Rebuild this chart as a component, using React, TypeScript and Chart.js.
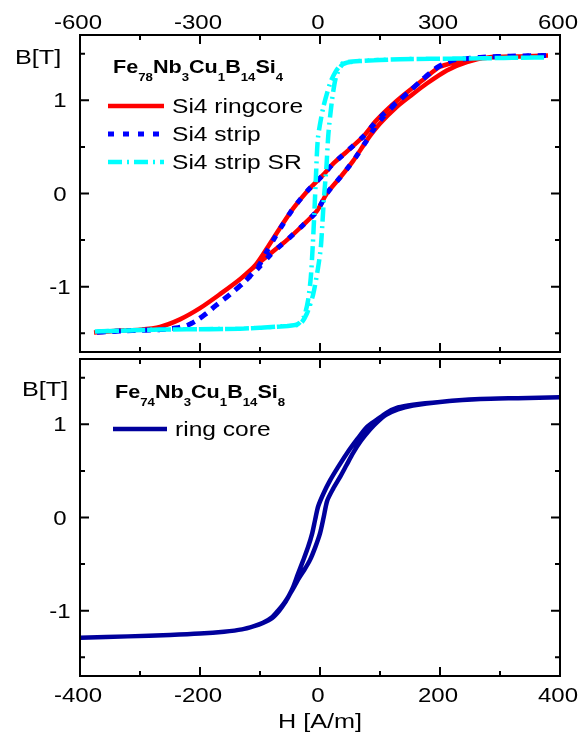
import React, { useEffect, useRef } from "react";
import { Chart, registerables } from "chart.js";
Chart.register(...registerables);

const FONT = '"Liberation Sans", Arial, Helvetica, sans-serif';

// ---- axes ----
const topXTicks = [-600, -300, 0, 300, 600];
const topXMinor = [-450, -150, 150, 450];
const bottomXTicks = [-400, -200, 0, 200, 400];
const bottomXMinor = [-300, -100, 100, 300];
const yTicks = [-1, 0, 1];
const yMinor = [-1.5, -0.5, 0.5, 1.5];

// ---- top panel: Fe78Nb3Cu1B14Si4 ----
const ringDescH = [570, 500, 433, 367, 300, 258, 210, 175, 140, 110, 67, 33, 8, -33, -67, -100, -130, -160, -200, -250, -300, -350, -400, -450, -500, -565];
const ringDescB = [1.48, 1.47, 1.46, 1.43, 1.36, 1.22, 1.06, 0.93, 0.78, 0.62, 0.45, 0.32, 0.2, 0.02, -0.16, -0.37, -0.57, -0.76, -0.92, -1.08, -1.23, -1.35, -1.43, -1.46, -1.47, -1.49];
const ringAscH = [-565, -500, -450, -400, -350, -300, -250, -200, -160, -120, -83, -50, -8, 17, 50, 83, 117, 150, 192, 230, 267, 317, 367, 420, 500, 570];
const ringAscB = [-1.49, -1.47, -1.46, -1.43, -1.35, -1.23, -1.08, -0.92, -0.77, -0.63, -0.5, -0.37, -0.19, 0.0, 0.17, 0.35, 0.57, 0.75, 0.93, 1.06, 1.18, 1.32, 1.41, 1.46, 1.47, 1.48];

const stripDescH = [565, 450, 400, 375, 333, 296, 258, 217, 179, 142, 110, 67, 33, 8, -33, -67, -100, -129, -154, -192, -233, -260, -285, -308, -330, -355, -400, -470, -565];
const stripDescB = [1.48, 1.47, 1.46, 1.45, 1.43, 1.36, 1.23, 1.07, 0.93, 0.78, 0.62, 0.45, 0.32, 0.2, 0.02, -0.16, -0.38, -0.59, -0.78, -0.96, -1.11, -1.2, -1.29, -1.36, -1.41, -1.44, -1.46, -1.47, -1.49];
const stripAscH = [-565, -470, -400, -355, -330, -308, -285, -260, -233, -192, -154, -120, -83, -50, -8, 17, 50, 83, 117, 142, 179, 217, 258, 296, 333, 375, 400, 450, 565];
const stripAscB = [-1.49, -1.47, -1.46, -1.44, -1.41, -1.36, -1.29, -1.2, -1.11, -0.96, -0.8, -0.64, -0.5, -0.37, -0.19, 0.0, 0.17, 0.35, 0.57, 0.74, 0.92, 1.07, 1.23, 1.36, 1.43, 1.45, 1.46, 1.47, 1.48];

const srDescH = [560, 400, 200, 100, 70, 54, 38, 25, 8, -5, -10, -14, -18, -23, -30, -40, -55, -80, -200, -400, -565];
const srDescB = [1.46, 1.45, 1.44, 1.42, 1.41, 1.39, 1.3, 1.18, 0.92, 0.6, 0.2, -0.2, -0.55, -0.9, -1.15, -1.32, -1.4, -1.42, -1.45, -1.46, -1.48];
const srAscH = [-565, -400, -200, -80, -50, -33, -17, -5, 2, 6, 10, 16, 21, 30, 40, 55, 75, 100, 200, 400, 560];
const srAscB = [-1.48, -1.46, -1.45, -1.42, -1.4, -1.29, -1.08, -0.8, -0.58, -0.32, -0.04, 0.28, 0.64, 1.0, 1.25, 1.38, 1.41, 1.42, 1.44, 1.45, 1.46];

// ---- bottom panel: Fe74Nb3Cu1B14Si8 ----
const coreDescH = [400, 330, 267, 200, 155, 130, 110, 95, 78, 62, 45, 30, 17, 6, -3, -8, -13, -20, -28, -37, -45, -52, -60, -70, -80, -95, -110, -130, -160, -200, -250, -320, -400];
const coreDescB = [1.29, 1.28, 1.27, 1.24, 1.21, 1.18, 1.12, 1.05, 0.97, 0.84, 0.69, 0.54, 0.4, 0.26, 0.12, -0.02, -0.17, -0.32, -0.46, -0.61, -0.75, -0.84, -0.92, -1.0, -1.07, -1.13, -1.165, -1.2, -1.225, -1.245, -1.26, -1.275, -1.29];
const coreAscH = [-400, -320, -250, -200, -160, -130, -110, -95, -80, -68, -58, -50, -42, -35, -26, -17, -8, 0, 6, 12, 22, 33, 44, 55, 68, 83, 95, 110, 130, 155, 200, 267, 330, 400];
const coreAscB = [-1.29, -1.275, -1.26, -1.245, -1.225, -1.2, -1.165, -1.13, -1.08, -1.0, -0.91, -0.82, -0.73, -0.65, -0.56, -0.46, -0.32, -0.17, 0.0, 0.18, 0.31, 0.43, 0.56, 0.69, 0.82, 0.94, 1.02, 1.1, 1.16, 1.2, 1.24, 1.27, 1.28, 1.29];

const topNames = ["Si4 ringcore", "Si4 strip", "Si4 strip SR"];
const bottomNames = ["ring core"];
const topFormula = [["Fe", 0], ["78", 1], ["Nb", 0], ["3", 1], ["Cu", 0], ["1", 1], ["B", 0], ["14", 1], ["Si", 0], ["4", 1]];
const bottomFormula = [["Fe", 0], ["74", 1], ["Nb", 0], ["3", 1], ["Cu", 0], ["1", 1], ["B", 0], ["14", 1], ["Si", 0], ["8", 1]];

function loop(dh: number[], db: number[], ah: number[], ab: number[]) {
  const h = dh.concat(ah.slice(1));
  const b = db.concat(ab.slice(1));
  return h.map((x, i) => ({ x, y: b[i] }));
}

function drawText(ctx: CanvasRenderingContext2D, s: string, x: number, y: number, size: number, opts: { bold?: boolean; align?: string; sx?: number } = {}) {
  const sx = opts.sx ?? 1.2;
  ctx.save();
  ctx.font = `${opts.bold ? "bold " : ""}${size}px ${FONT}`;
  ctx.textBaseline = "alphabetic";
  ctx.textAlign = "left";
  const w = ctx.measureText(s).width * sx;
  let x0 = x;
  if (opts.align === "center") x0 = x - w / 2;
  else if (opts.align === "right") x0 = x - w;
  ctx.translate(x0, y);
  ctx.scale(sx, 1);
  ctx.fillStyle = "#000";
  ctx.fillText(s, 0, 0);
  ctx.restore();
  return w;
}

function drawFormula(ctx: CanvasRenderingContext2D, parts: any[], x: number, base: number, subBase: number) {
  let cx = x;
  for (const [t, sub] of parts) {
    cx += drawText(ctx, t, cx, sub ? subBase : base, sub ? 11 : 18, { bold: true, sx: 1.2 });
  }
}

function legendLine(ctx: CanvasRenderingContext2D, ds: any, x1: number, x2: number, y: number) {
  ctx.save();
  ctx.strokeStyle = ds.borderColor;
  ctx.lineWidth = ds.borderWidth;
  ctx.setLineDash(ds.borderDash || []);
  ctx.beginPath();
  ctx.moveTo(x1, y);
  ctx.lineTo(x2, y);
  ctx.stroke();
  ctx.restore();
}

function framePlugin(cfg: {
  xMajor: number[]; xMinor: number[]; xLabelBase: number; extra: (ctx: CanvasRenderingContext2D, chart: any) => void;
}) {
  return {
    id: "frame",
    afterDatasetsDraw(chart: any) {
      const ctx = chart.ctx as CanvasRenderingContext2D;
      const a = chart.chartArea;
      const xs = chart.scales.x;
      const ys = chart.scales.y;
      ctx.save();
      ctx.strokeStyle = "#000";
      ctx.lineWidth = 2;
      ctx.setLineDash([]);
      ctx.strokeRect(a.left, a.top, a.right - a.left, a.bottom - a.top);
      const tick = (vals: number[], len: number) => {
        for (const v of vals) {
          const px = xs.getPixelForValue(v);
          ctx.beginPath();
          ctx.moveTo(px, a.bottom);
          ctx.lineTo(px, a.bottom - len);
          ctx.moveTo(px, a.top);
          ctx.lineTo(px, a.top + len);
          ctx.stroke();
        }
      };
      const ytick = (vals: number[], len: number) => {
        for (const v of vals) {
          const py = ys.getPixelForValue(v);
          ctx.beginPath();
          ctx.moveTo(a.left, py);
          ctx.lineTo(a.left + len, py);
          ctx.moveTo(a.right, py);
          ctx.lineTo(a.right - len, py);
          ctx.stroke();
        }
      };
      tick(cfg.xMajor, 9);
      tick(cfg.xMinor, 5);
      ytick(yTicks, 9);
      ytick(yMinor, 5);
      ctx.restore();
    },
    afterDraw(chart: any) {
      const ctx = chart.ctx as CanvasRenderingContext2D;
      const xs = chart.scales.x;
      const ys = chart.scales.y;
      for (const v of cfg.xMajor) {
        drawText(ctx, String(v), xs.getPixelForValue(v) - 2, cfg.xLabelBase, 20, { align: "center", sx: 1.2 });
      }
      for (const v of yTicks) {
        drawText(ctx, String(v), 60, ys.getPixelForValue(v) + 7, 20, { align: "center", sx: 1.2 });
      }
      cfg.extra(ctx, chart);
    },
  };
}

function topConfig(): any {
  const datasets = [
    { label: topNames[0], data: loop(ringDescH, ringDescB, ringAscH, ringAscB), borderColor: "#ff0000", borderWidth: 4.5, order: 3 },
    { label: topNames[1], data: loop(stripDescH, stripDescB, stripAscH, stripAscB), borderColor: "#0000ff", borderWidth: 5, borderDash: [6, 9], order: 2 },
    { label: topNames[2], data: loop(srDescH, srDescB, srAscH, srAscB), borderColor: "#00ffff", borderWidth: 4.5, borderDash: [14, 5, 2, 5], order: 1 },
  ].map((d) => ({ ...d, pointRadius: 0, tension: 0.25, fill: false }));
  return {
    type: "line",
    data: { datasets },
    options: {
      animation: false,
      responsive: false,
      events: [],
      layout: { padding: { left: 80, right: 25, top: 35, bottom: 4 } },
      plugins: { legend: { display: false }, tooltip: { enabled: false } },
      scales: {
        x: { type: "linear", min: -600, max: 600, display: false },
        y: { type: "linear", min: -1.7, max: 1.7, display: false },
      },
    },
    plugins: [
      framePlugin({
        xMajor: topXTicks,
        xMinor: topXMinor,
        xLabelBase: 29,
        extra: (ctx, chart) => {
          drawText(ctx, "B[T]", 15, 64, 21, { sx: 1.2 });
          drawFormula(ctx, topFormula, 113, 73, 81);
          const ds = chart.data.datasets;
          for (let i = 0; i < 3; i++) {
            legendLine(ctx, ds[i], 108, 164, 106 + i * 28);
            drawText(ctx, topNames[i], 172, 113 + i * 28, 21, { sx: 1.17 });
          }
        },
      }),
    ],
  };
}

function bottomConfig(): any {
  const datasets = [
    { label: bottomNames[0], data: loop(coreDescH, coreDescB, coreAscH, coreAscB), borderColor: "#00009c", borderWidth: 4.5, pointRadius: 0, tension: 0.25, fill: false },
  ];
  return {
    type: "line",
    data: { datasets },
    options: {
      animation: false,
      responsive: false,
      events: [],
      layout: { padding: { left: 80, right: 25, top: 3, bottom: 62 } },
      plugins: { legend: { display: false }, tooltip: { enabled: false } },
      scales: {
        x: { type: "linear", min: -400, max: 400, display: false },
        y: { type: "linear", min: -1.7, max: 1.7, display: false },
      },
    },
    plugins: [
      framePlugin({
        xMajor: bottomXTicks,
        xMinor: bottomXMinor,
        xLabelBase: 346,
        extra: (ctx, chart) => {
          drawText(ctx, "B[T]", 22, 40, 21, { sx: 1.2 });
          drawFormula(ctx, bottomFormula, 115, 42, 49.5);
          legendLine(ctx, chart.data.datasets[0], 113, 167, 73);
          drawText(ctx, bottomNames[0], 175, 80, 21, { sx: 1.17 });
          const a = chart.chartArea;
          drawText(ctx, "H [A/m]", (a.left + a.right) / 2, 372, 21, { align: "center", sx: 1.2 });
        },
      }),
    ],
  };
}

export default function App() {
  const topRef = useRef<HTMLCanvasElement>(null);
  const botRef = useRef<HTMLCanvasElement>(null);
  useEffect(() => {
    const c1 = new Chart(topRef.current as HTMLCanvasElement, topConfig());
    const c2 = new Chart(botRef.current as HTMLCanvasElement, bottomConfig());
    return () => {
      c1.destroy();
      c2.destroy();
    };
  }, []);
  return (
    <div style={{ position: "absolute", left: 0, top: 0, width: 585, height: 738, background: "#fff" }}>
      <canvas ref={topRef} width={585} height={356} style={{ position: "absolute", left: 0, top: 0 }} />
      <canvas ref={botRef} width={585} height={382} style={{ position: "absolute", left: 0, top: 356 }} />
    </div>
  );
}
